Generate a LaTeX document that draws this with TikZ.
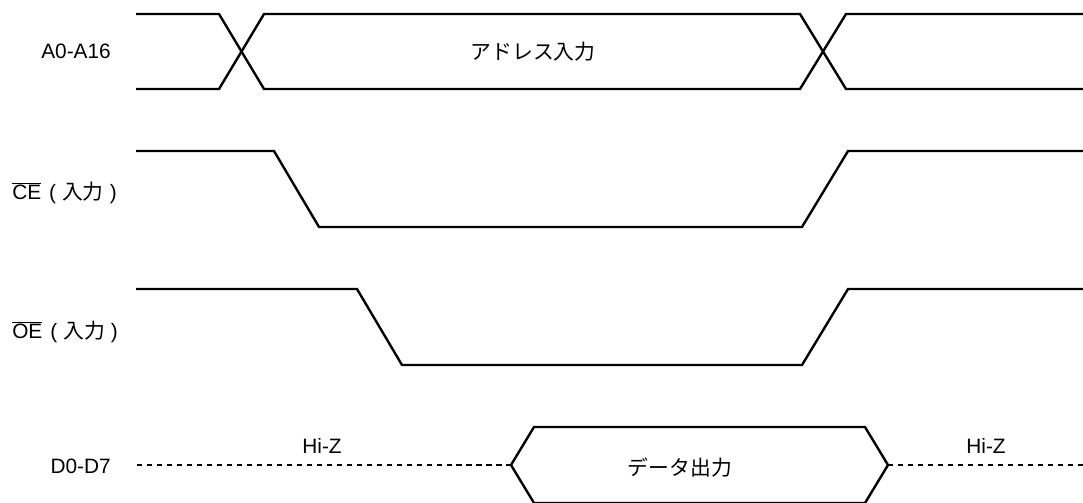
\documentclass[tikz,border=0pt]{standalone}
\usepackage{fontspec}
\setmainfont{Liberation Sans}
\newfontfamily\jpfont{Noto Sans CJK JP}
\tikzset{
  wave/.style={line width=1.7pt, line join=miter},
  hiz/.style={line width=1.7pt, dash pattern=on 3.8pt off 3.3pt},
  signame/.style={font=\fontsize{14.8}{17}\selectfont, inner sep=0pt},
  busval/.style={font=\fontsize{14.8}{17}\selectfont\jpfont, inner sep=0pt},
  hizlabel/.style={font=\fontsize{14.8}{17}\selectfont, inner sep=0pt}
}

\begin{document}
\begin{tikzpicture}[x=0.025cm, y=-0.025cm]
  \useasboundingbox (0,0) rectangle (1083,502);

  % Signal names
  \node (a) [signame, anchor=east] at (111,51) {A0-A16};
  \node (ce) [signame, anchor=west] at (12,193) {$\overline{\mbox{CE}}$\hspace{0.2cm}(\hspace{0.15cm}{\jpfont 入力}\hspace{0.15cm})};
  \node (oe) [signame, anchor=west] at (12,332) {$\overline{\mbox{OE}}$\hspace{0.2cm}(\hspace{0.15cm}{\jpfont 入力}\hspace{0.15cm})};
  \node (d) [signame, anchor=east] at (111,466) {D0-D7};

  % Address bus
  \draw [wave] (136,14) -- (219,14) -- (264,89) -- (800,89) -- (846,14) -- (1084,14);
  \draw [wave] (136,89) -- (219,89) -- (264,14) -- (800,14) -- (846,89) -- (1084,89);
  \node (addr) [busval] at (533,52) {アドレス入力};

  % CE
  \draw [wave] (136,151) -- (274,151) -- (319,227) -- (802,227) -- (848,151) -- (1084,151);

  % OE
  \draw [wave] (136,289) -- (357,289) -- (402,365) -- (802,365) -- (848,289) -- (1084,289);

  % Data bus
  \draw [hiz] (137,465) -- (511,465);
  \draw [wave] (511,465) -- (534,427) -- (865,427) -- (888,465) -- (865,503) -- (534,503) -- cycle;
  \draw [hiz] (888,465) -- (1084,465);
  \node (data) [busval] at (680,467) {データ出力};
  \node (hz1) [hizlabel] at (322,446) {Hi-Z};
  \node (hz2) [hizlabel] at (986,446) {Hi-Z};
\end{tikzpicture}
\end{document}
